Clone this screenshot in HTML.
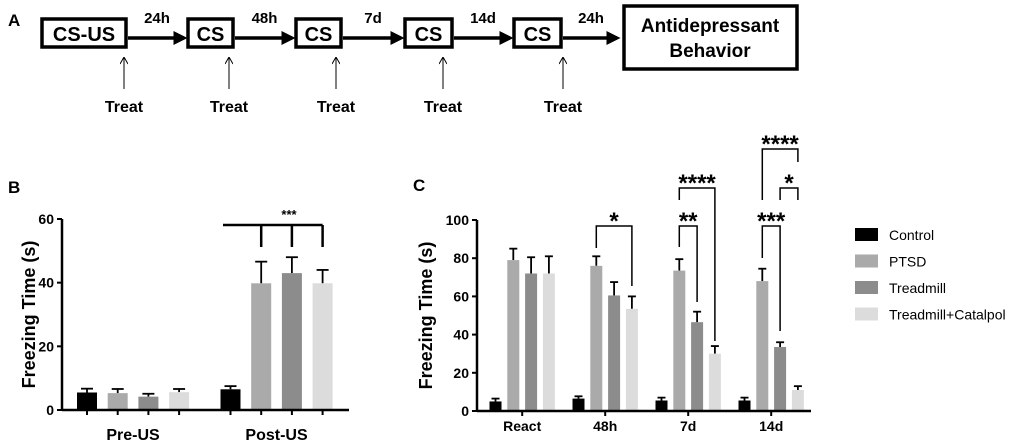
<!DOCTYPE html>
<html><head><meta charset="utf-8"><style>
body{margin:0;background:#fff;}
svg{display:block;font-family:"Liberation Sans",Arial,sans-serif;font-weight:bold;}
</style></head><body>
<svg id="fig" width="1020" height="445" viewBox="0 0 1020 445">
<defs><marker id="ah" markerWidth="4" markerHeight="4" refX="3" refY="2" orient="auto" markerUnits="strokeWidth"><path d="M0,0 L4,2 L0,4 Z" fill="#000"/></marker>
<marker id="ah2" markerWidth="8" markerHeight="8" refX="7" refY="4" orient="auto" markerUnits="userSpaceOnUse"><path d="M1,0 L8,4 L1,8" fill="none" stroke="#000" stroke-width="1"/></marker></defs>
<g id="panelA"></g>
<g id="panelB"></g>
<g id="panelC"></g>
<g id="legend"></g>
</svg>
<script>
const NS='http://www.w3.org/2000/svg';
function el(p,t,a,txt){const e=document.createElementNS(NS,t);for(const k in a)e.setAttribute(k,a[k]);if(txt!==undefined)e.textContent=txt;p.appendChild(e);return e;}
const colors=['#000000','#aaaaaa','#8c8c8c','#dcdcdc'];
const seriesNames=['Control','PTSD','Treadmill','Treadmill+Catalpol'];

// Chart B data
const bCategories=['Pre-US','Post-US'];
const bControl=[5.5,6.5];const bPTSD=[5.3,39.8];const bTreadmill=[4.2,43];const bTC=[5.6,39.8];
const bControlErr=[1.2,1.0];const bPTSDErr=[1.3,6.8];const bTreadmillErr=[0.9,5];const bTCErr=[1.0,4.2];
const bTicks=[0,20,40,60];
// Chart C data
const cCategories=['React','48h','7d','14d'];
const cControl=[5,6.5,5.5,5.5];const cPTSD=[79,76,73.5,68];const cTreadmill=[72,60.5,46.5,33.5];const cTC=[72,53.5,30,11];
const cControlErr=[1.5,1.2,1.5,1.5];const cPTSDErr=[6,5,6,6.5];const cTreadmillErr=[8.5,7,5.5,2.5];const cTCErr=[9,6.5,4,2];
const cTicks=[0,20,40,60,80,100];

// Panel A
const A=document.getElementById('panelA');
el(A,'text',{x:8,y:26,'font-size':17},'A');
const boxes=[[42,126,'CS-US'],[188,233,'CS'],[296,341,'CS'],[405,452,'CS'],[514,561,'CS']];
const gaps=['24h','48h','7d','14d','24h'];
const treatX=[124,229,336,443,563];
boxes.forEach((b,i)=>{
 const r=el(A,'rect',{x:b[0],y:19,width:b[1]-b[0],height:28,fill:'#fff',stroke:'#000','stroke-width':3.5});
 
 el(A,'text',{x:(b[0]+b[1])/2,y:41,'font-size':20,'text-anchor':'middle'},b[2]);
 const nx=i<4?boxes[i+1][0]:621;
 const ln=el(A,'line',{x1:b[1]+2,y1:38,x2:nx-4,y2:38,stroke:'#000','stroke-width':3.5,'marker-end':'url(#ah)'});
 
 el(A,'text',{x:(b[1]+nx)/2,y:23,'font-size':15,'text-anchor':'middle'},gaps[i]);
 const ta=el(A,'line',{x1:treatX[i],y1:89,x2:treatX[i],y2:58,stroke:'#000','stroke-width':1,'marker-end':'url(#ah2)'});
 
 el(A,'text',{x:treatX[i],y:112,'font-size':16,'text-anchor':'middle'},'Treat');
});
el(A,'rect',{x:624,y:6,width:173,height:63,fill:'#fff',stroke:'#000','stroke-width':3.5});
el(A,'text',{x:710,y:32,'font-size':19,'text-anchor':'middle'},'Antidepressant');
el(A,'text',{x:710,y:57,'font-size':19,'text-anchor':'middle'},'Behavior');

function drawChart(g,o){
 const y=v=>o.y0-v*(o.y0-o.yTop)/o.max;
 const vals=[o.s0,o.s1,o.s2,o.s3],errs=[o.e0,o.e1,o.e2,o.e3];
 o.cats.forEach((c,ci)=>{
  for(let s=0;s<4;s++){
   const cx=o.start+ci*o.gs+s*o.bs;
   const v=vals[s][ci],e=errs[s][ci];
   el(g,'line',{x1:cx,y1:y(v),x2:cx,y2:y(v+e),stroke:'#000','stroke-width':1.8});
   el(g,'line',{x1:cx-o.cap,y1:y(v+e),x2:cx+o.cap,y2:y(v+e),stroke:'#000','stroke-width':1.8});
   const r=el(g,'rect',{x:cx-o.bw/2,y:y(v),width:o.bw,height:o.y0-y(v),fill:colors[s]});
   
   
   if(o.tickEach) el(g,'line',{x1:cx,y1:o.y0,x2:cx,y2:o.y0+5,stroke:'#000','stroke-width':2});
  }
  const mid=o.start+ci*o.gs+1.5*o.bs;
  if(!o.tickEach) el(g,'line',{x1:mid,y1:o.y0,x2:mid,y2:o.y0+5,stroke:'#000','stroke-width':2});
  el(g,'text',{x:mid,y:o.y0+o.labOff,'font-size':o.labFs,'text-anchor':'middle'},c);
 });
 el(g,'line',{x1:o.x0,y1:o.y0,x2:o.x1,y2:o.y0,stroke:'#000','stroke-width':2.5});
 el(g,'line',{x1:o.x0,y1:o.y0+1,x2:o.x0,y2:o.yTop,stroke:'#000','stroke-width':2.5});
 o.ticks.forEach(t=>{el(g,'line',{x1:o.x0-5,y1:y(t),x2:o.x0,y2:y(t),stroke:'#000','stroke-width':2});
  el(g,'text',{x:o.x0-8,y:y(t)+5,'font-size':14,'text-anchor':'end'},t);});
 const yt=el(g,'text',{x:0,y:0,'font-size':18,'text-anchor':'middle',transform:`translate(${o.ytx},${(o.y0+o.yTop)/2}) rotate(-90)`},'Freezing Time (s)');
 
 return {y,x:(ci,s)=>o.start+ci*o.gs+s*o.bs};
}
const B=document.getElementById('panelB');
el(B,'text',{x:8,y:193,'font-size':17},'B');
const bb=drawChart(B,{cats:bCategories,s0:bControl,s1:bPTSD,s2:bTreadmill,s3:bTC,e0:bControlErr,e1:bPTSDErr,e2:bTreadmillErr,e3:bTCErr,
 y0:410,yTop:219,max:60,x0:62,x1:349,start:87,gs:143.5,bs:30.7,bw:20,cap:6,ticks:bTicks,tickEach:true,labOff:30,labFs:16,ytx:35});
{const yb=225,yd=247;el(B,'path',{d:`M223,${yb}H${bb.x(1,3)} M${bb.x(1,1)},${yb}V${yd} M${bb.x(1,2)},${yb}V${yd} M${bb.x(1,3)},${yb}V${yd}`,fill:'none',stroke:'#000','stroke-width':2.5});
 el(B,'text',{x:289,y:219,'font-size':13,'text-anchor':'middle'},'***');}

const C=document.getElementById('panelC');
el(C,'text',{x:413,y:191,'font-size':17},'C');
const cc=drawChart(C,{cats:cCategories,s0:cControl,s1:cPTSD,s2:cTreadmill,s3:cTC,e0:cControlErr,e1:cPTSDErr,e2:cTreadmillErr,e3:cTCErr,
 y0:411,yTop:220,max:100,x0:477,x1:811,start:495.5,gs:83,bs:17.8,bw:12,cap:4,ticks:cTicks,tickEach:false,labOff:20,labFs:14,ytx:432});
function bracketTo(ci,s1,s2,yb,label,end1,end2){
 const x1=cc.x(ci,s1),x2=cc.x(ci,s2);
 el(C,'path',{d:`M${x1},${end1}V${yb}H${x2}V${end2}`,fill:'none',stroke:'#000','stroke-width':1.5});
 el(C,'text',{x:(x1+x2)/2,y:yb+3,'font-size':24,'text-anchor':'middle'},label);
}
bracketTo(1,1,3,226,'*',248,286);
bracketTo(2,1,2,226,'**',247,302);
bracketTo(2,1,3,188,'****',200,341);
bracketTo(3,1,2,226,'***',258,331);
bracketTo(3,2,3,188,'*',200,200);
bracketTo(3,1,3,149,'****',200,162);

const L=document.getElementById('legend');
seriesNames.forEach((n,i)=>{
 const yy=228+i*26.5;
 const r=el(L,'rect',{x:855,y:yy,width:23,height:13,fill:colors[i]});
 
 const t=el(L,'text',{x:889,y:yy+12,'font-size':14,'font-weight':'normal'},n);
 
});
</script>
</body></html>
